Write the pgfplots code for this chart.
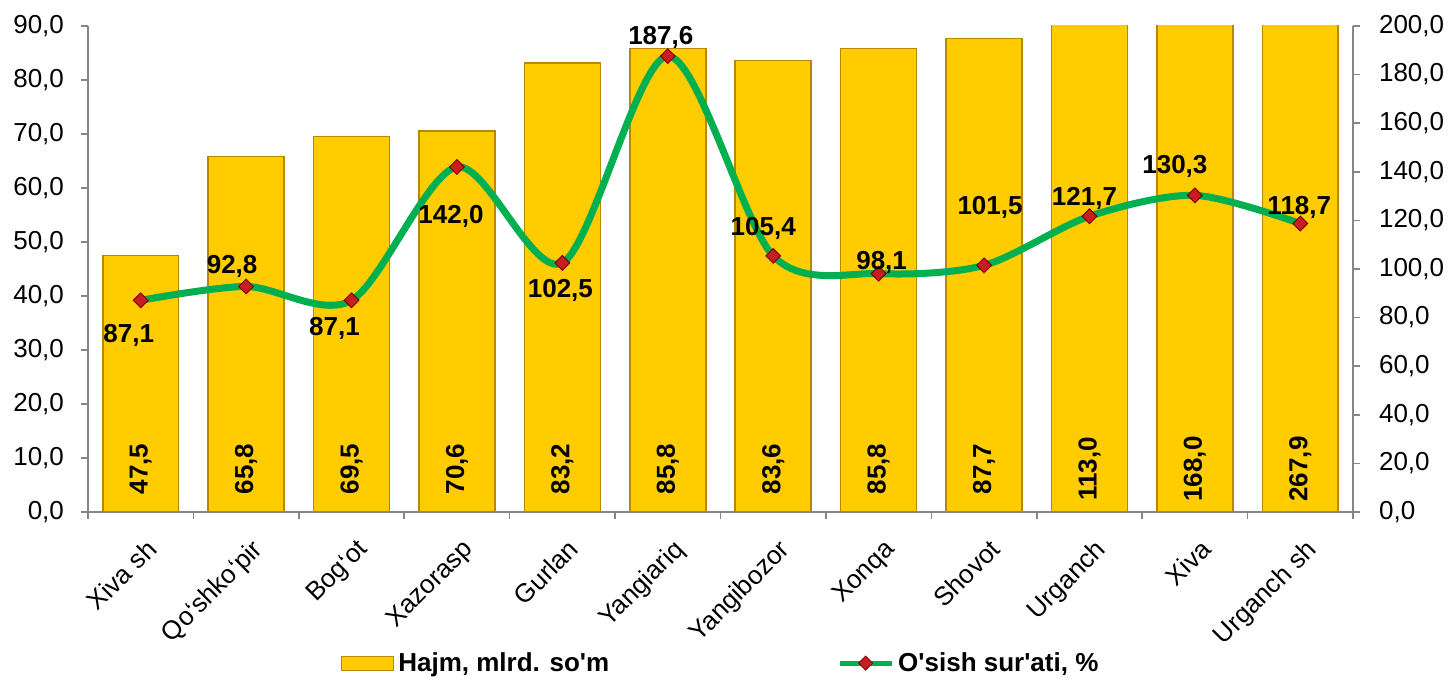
\documentclass[border=0pt]{standalone}
\usepackage{fontspec}
\setmainfont{Liberation Sans}[Ligatures=TeXOff]
\usepackage{pgfplots}
\usepackage{pgfplotstable}
\pgfplotsset{compat=1.18}
\definecolor{barGold}{RGB}{255,204,0}
\definecolor{barEdge}{RGB}{185,135,0}
\definecolor{lineGreen}{RGB}{0,176,80}
\definecolor{markRed}{RGB}{200,30,35}
\definecolor{markEdge}{RGB}{130,0,0}
\definecolor{axisGray}{RGB}{134,134,134}

% volume, mlrd. so'm
\pgfplotstableread{
x hajm
0 47.5
1 65.8
2 69.5
3 70.6
4 83.2
5 85.8
6 83.6
7 85.8
8 87.7
9 113.0
10 168.0
11 267.9
}\hajm

% growth rate, % (dx/dy = label offset in pt)
\pgfplotstableread{
x rate dx dy
0 87.1 -6 -17.5
1 92.8 -7 10
2 87.1 -8.5 -14
3 142.0 -3 -25
4 102.5 -1 -14
5 187.6 -3.5 9.5
6 105.4 -5 13.5
7 98.1 1.5 5.5
8 101.5 3 29
9 121.7 -2.5 9
10 130.3 -10 14.5
11 118.7 -0.5 8
}\rate

\newcommand\lbl{\fontsize{13}{15}\selectfont}

\pgfplotsset{
  base/.style={
    scale only axis, width=632.5pt, height=243pt,
    xmin=-0.5, xmax=11.5,
    tick align=outside, major tick length=3.5pt,
    axis line style={axisGray, line width=0.8pt},
    tick style={axisGray, line width=0.8pt},
    tick label style={font=\lbl},
    /pgf/number format/.cd, use comma, fixed, fixed zerofill, precision=1, assume math mode=true,
  },
}

\begin{document}
\begin{tikzpicture}
  \begin{axis}[
      base, name=ax,
      ybar, bar width=0.72,
      ymin=0, ymax=90, ytick={0,10,...,90},
      yticklabel style={xshift=-5pt},
      axis y line*=left, axis x line*=bottom,
      xtick={-0.5,0.5,...,11.5}, x tick label as interval,
      xticklabels={Xiva sh, Qo‘shko‘pir, Bog‘ot, Xazorasp, Gurlan, Yangiariq,
        Yangibozor, Xonqa, Shovot, Urganch, Xiva, Urganch sh},
      xticklabel style={rotate=45, anchor=north east, inner sep=1pt, yshift=-7pt, xshift=-4pt},
      legend columns=2,
      legend style={at={(0.501,-0.311)}, anchor=center, draw=none, fill=none,
        font=\bfseries\lbl,
        /tikz/every even column/.append style={column sep=112pt}},
    ]
    \addplot[fill=barGold, draw=barEdge, line width=0.8pt,
      legend image code/.code={\draw[fill=barGold, draw=barEdge, line width=0.6pt] (0pt,-3.5pt) rectangle (26pt,3.5pt);}]
      table[x=x, y=hajm] {\hajm};
    \addlegendentry{Hajm, mlrd. so'm}
    \addlegendimage{legend image code/.code={
        \draw[lineGreen, line width=2.5pt] (0pt,0pt) -- (26pt,0pt);
        \fill[markRed, draw=markEdge, line width=0.4pt, rotate around={45:(13pt,0pt)}] (10.5pt,-2.5pt) rectangle (15.5pt,2.5pt);}}
    \addlegendentry{O'sish sur'ati, \%}
  \end{axis}
  \begin{axis}[
      base,
      ymin=0, ymax=200, ytick={0,20,...,200},
      yticklabel style={xshift=6pt},
      axis y line*=right, axis x line=none,
      clip=false,
    ]
    % labels of the bars, set low inside them
    \addplot[draw=none, mark=none, nodes near coords, point meta=\thisrow{hajm},
      every node near coord/.append style={rotate=90, anchor=center,
        font=\bfseries\lbl}]
      table[x=x, y expr=17.7] {\hajm};
    \addplot[lineGreen, line width=3.5pt, smooth,
      mark=square*, mark size=2.6pt,
      mark options={rotate=45, solid, fill=markRed, draw=markEdge, line width=0.5pt},
      nodes near coords, point meta=\thisrow{rate},
      visualization depends on={\thisrow{dx} \as \dx},
      visualization depends on={\thisrow{dy} \as \dy},
      every node near coord/.append style={anchor=center, black,
        xshift=\dx pt, yshift=\dy pt, font=\bfseries\lbl}]
      table[x=x, y=rate] {\rate};
  \end{axis}
  \pgfresetboundingbox
  \path ([shift={(-44pt,-85pt)}]ax.south west) rectangle ([shift={(49pt,13pt)}]ax.north east);
\end{tikzpicture}
\end{document}
